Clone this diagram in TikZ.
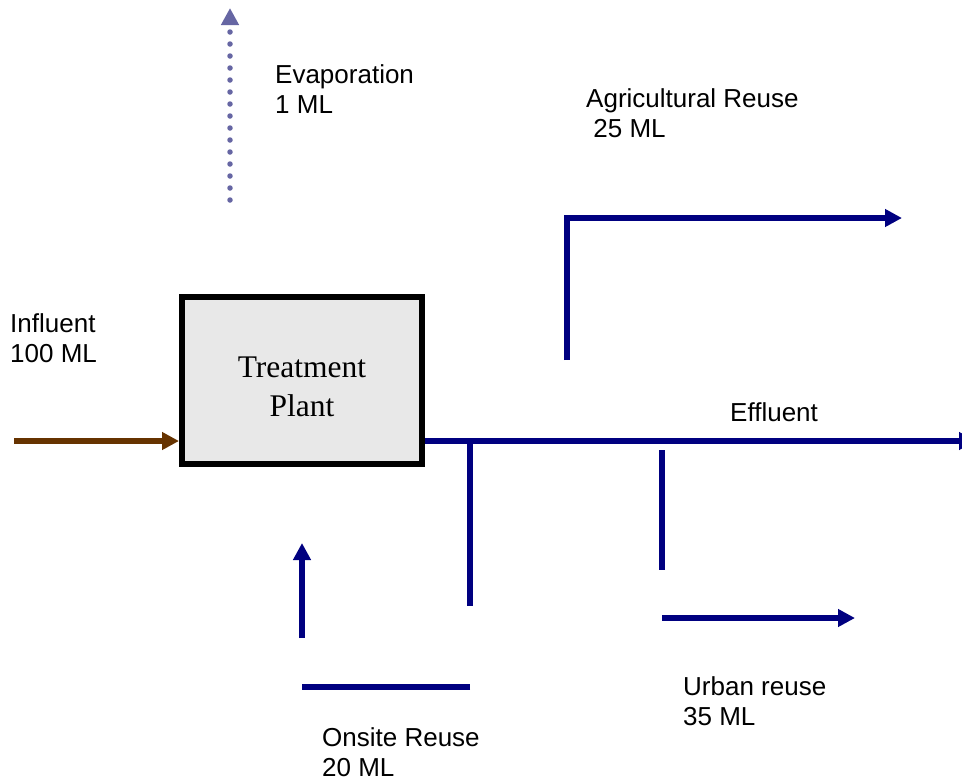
\documentclass[tikz,border=0pt]{standalone}
\usepackage{fontspec}
\setmainfont{Liberation Sans}
\newfontfamily\plantfont{Liberation Serif}
\usetikzlibrary{arrows.meta}
\definecolor{flownavy}{HTML}{000080}
\definecolor{flowbrown}{HTML}{663300}
\definecolor{evapblue}{HTML}{6666A3}
\definecolor{plantgray}{HTML}{E8E8E8}
\tikzset{
  lbl/.style={anchor=base west, inner sep=0pt, align=left, font=\fontsize{26}{30}\selectfont},
  plantbox/.style={draw=black, line width=6pt, fill=plantgray, minimum width=240pt, minimum height=167pt, inner sep=0pt, align=center, text height=71pt, text depth=0pt, font=\plantfont\fontsize{31.5}{39}\selectfont},
  navyline/.style={draw=flownavy, line width=6pt},
  navyarrow/.style={navyline, -{Triangle[length=17pt,width=17pt]}},
  brownarrow/.style={draw=flowbrown, line width=5.5pt, -{Triangle[length=17pt,width=17pt]}},
  evaparrow/.style={draw=evapblue, line width=5.5pt, line cap=round, dash pattern=on 0pt off 12pt, -{Triangle[length=17pt,width=17pt]}},
}
\begin{document}
\begin{tikzpicture}[x=1pt,y=-1pt]
\useasboundingbox (0,0) rectangle (962,780);
% plant
\node[plantbox] (tp) at (302,380.5) {Treatment\\Plant};
% labels (anchor at baseline of the last line)
\node[lbl] (evl) at (275,113) {Evaporation\\1 ML};
\node[lbl] (agl) at (586,137) {Agricultural Reuse\\\ 25 ML};
\node[lbl] (inl) at (10,362) {Influent\\100 ML};
\node[lbl] (efl) at (730,421) {Effluent};
\node[lbl] (url) at (683,725) {Urban reuse\\35 ML};
\node[lbl] (onl) at (322,776) {Onsite Reuse\\20 ML};
% coordinates
\coordinate (ev1) at (230,200);
\coordinate (ev2) at (230,8);
\coordinate (in1) at (14,441);
\coordinate (ef1) at (425,441);
\coordinate (ef2) at (976,441);
\coordinate (on1) at (470,441);
\coordinate (on2) at (470,606);
\coordinate (on3) at (470,687);
\coordinate (on4) at (302,687);
\coordinate (on5) at (302,638);
\coordinate (on6) at (302,543);
\coordinate (ur1) at (662,450);
\coordinate (ur2) at (662,570);
\coordinate (ur3) at (662,618);
\coordinate (ur4) at (855,618);
\coordinate (ag1) at (567,360);
\coordinate (ag2) at (567,218);
\coordinate (ag3) at (902,218);
% flows
\draw[evaparrow] (ev1) -- (ev2);
\draw[brownarrow] (in1) -- (in1 -| tp.west);
\draw[navyarrow] (ef1) -- (ef2);
\draw[navyline] (on1) -- (on2);
\draw[navyline] (on3) -- (on4);
\draw[navyarrow] (on5) -- (on6);
\draw[navyline] (ur1) -- (ur2);
\draw[navyarrow] (ur3) -- (ur4);
\draw[navyarrow] (ag1) -- (ag2) -- (ag3);
\end{tikzpicture}
\end{document}
